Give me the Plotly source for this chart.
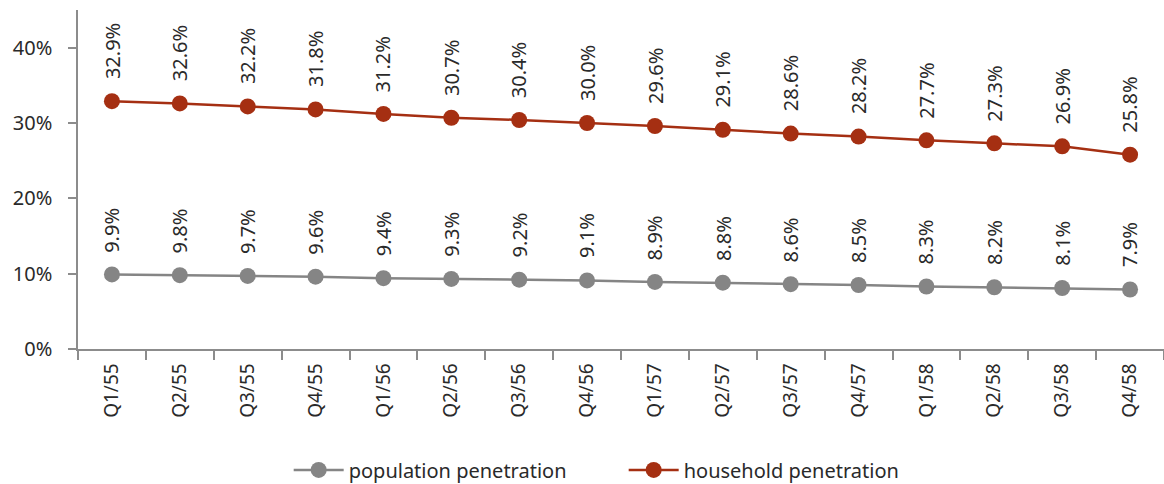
import plotly.graph_objects as go

quarters = ["Q1/55", "Q2/55", "Q3/55", "Q4/55", "Q1/56", "Q2/56", "Q3/56", "Q4/56",
            "Q1/57", "Q2/57", "Q3/57", "Q4/57", "Q1/58", "Q2/58", "Q3/58", "Q4/58"]
population = [9.9, 9.8, 9.7, 9.6, 9.4, 9.3, 9.2, 9.1, 8.9, 8.8, 8.6, 8.5, 8.3, 8.2, 8.1, 7.9]
household = [32.9, 32.6, 32.2, 31.8, 31.2, 30.7, 30.4, 30.0, 29.6, 29.1, 28.6, 28.2, 27.7, 27.3, 26.9, 25.8]

GRAY = "#858585"
RED = "#A52F12"
FONT = "Noto Sans"
TXT = "#2a2a2a"

fig = go.Figure()
fig.add_trace(go.Scatter(x=quarters, y=[v / 100 for v in population], mode="lines+markers",
                         name="population penetration",
                         line=dict(color=GRAY, width=2.5),
                         marker=dict(color=GRAY, size=16)))
fig.add_trace(go.Scatter(x=quarters, y=[v / 100 for v in household], mode="lines+markers",
                         name="household penetration",
                         line=dict(color=RED, width=2.5),
                         marker=dict(color=RED, size=16)))

for series in (population, household):
    for q, v in zip(quarters, series):
        fig.add_annotation(x=q, y=v / 100, text=f"{v:.1f}%", textangle=-90,
                           showarrow=False, yanchor="bottom", xanchor="center",
                           yshift=20, font=dict(family=FONT, size=20, color=TXT))

fig.update_layout(
    width=1164, height=484,
    margin=dict(l=78, r=0, t=10, b=135),
    plot_bgcolor="white", paper_bgcolor="white",
    font=dict(family=FONT, size=20, color=TXT),
    showlegend=True,
    legend=dict(orientation="h", x=0.194, xanchor="left", xref="paper",
                y=0.029, yanchor="middle", yref="container",
                itemwidth=50, entrywidth=270,
                font=dict(family=FONT, size=20, color=TXT)),
    xaxis=dict(type="category", tickangle=-90, showline=True, linecolor="#8C8C8C", linewidth=1.5,
               ticks="outside", ticklen=9, tickcolor="#8C8C8C", tickwidth=1.5,
               tickson="boundaries", showgrid=False, zeroline=False, ticklabelstandoff=5,
               tickfont=dict(family=FONT, size=19, color=TXT),
               range=[-0.5, len(quarters) - 0.5]),
    yaxis=dict(range=[0, 0.45], tickvals=[0, 0.1, 0.2, 0.3, 0.4],
               ticktext=["0%", "10%", "20%", "30%", "40%"],
               showline=True, linecolor="#8C8C8C", linewidth=1.5,
               ticks="outside", ticklen=8, tickcolor="#8C8C8C", tickwidth=1.5,
               showgrid=False, zeroline=False, ticklabelstandoff=12,
               tickfont=dict(family=FONT, size=20, color=TXT)),
)

fig.write_html("out.html", config={"displayModeBar": False},
               post_script="document.body.style.margin='0';")
